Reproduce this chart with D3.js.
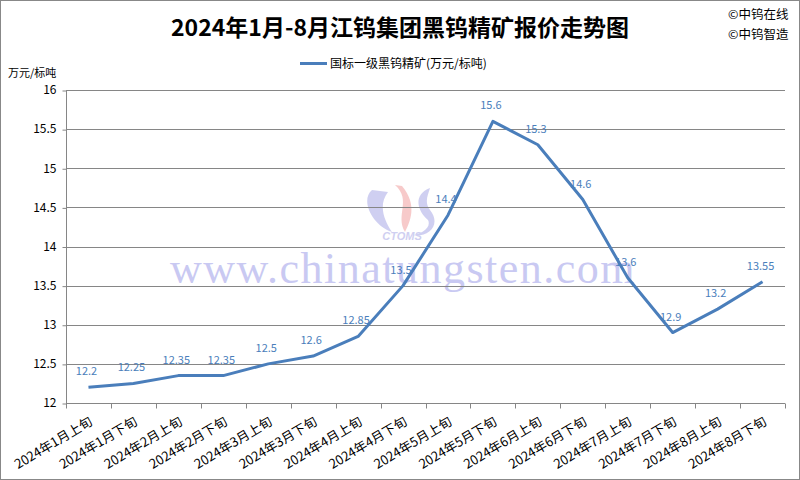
<!DOCTYPE html>
<html><head><meta charset="utf-8">
<script src="https://cdn.jsdelivr.net/npm/d3@7"></script>
<style>body{margin:0;background:#fff}svg{display:block}</style>
</head><body>
<svg id="c" width="800" height="480"></svg>
<script>
const categories = ["2024年1月上旬","2024年1月下旬","2024年2月上旬","2024年2月下旬","2024年3月上旬","2024年3月下旬","2024年4月上旬","2024年4月下旬","2024年5月上旬","2024年5月下旬","2024年6月上旬","2024年6月下旬","2024年7月上旬","2024年7月下旬","2024年8月上旬","2024年8月下旬"];
const values = [12.2,12.25,12.35,12.35,12.5,12.6,12.85,13.5,14.4,15.6,15.3,14.6,13.6,12.9,13.2,13.55];
const valueLabels = ["12.2","12.25","12.35","12.35","12.5","12.6","12.85","13.5","14.4","15.6","15.3","14.6","13.6","12.9","13.2","13.55"];
const yTicks = [12,12.5,13,13.5,14,14.5,15,15.5,16];
const seriesName = "国标一级黑钨精矿(万元/标吨)";
const title = "2024年1月-8月江钨集团黑钨精矿报价走势图";

const svg = d3.select("#c");
const font = "'Noto Sans CJK SC', 'DejaVu Sans', sans-serif";
svg.append("rect").attr("x",0.5).attr("y",0.5).attr("width",799).attr("height",479)
  .attr("fill","#fff").attr("stroke","#888");

const L=66, R=785, T=90, B=403;
const x = d3.scaleBand().domain(categories).range([L,R]);
const y = d3.scaleLinear().domain([12,16]).range([B,T]);

// watermark
svg.append("text").attr("x",403).attr("y",283).attr("text-anchor","middle")
  .attr("font-family","'Liberation Serif', serif").attr("font-size",44)
  .attr("fill","#c9c9f2").attr("letter-spacing",1.5).text("www.chinatungsten.com");
const lg = svg.append("g").attr("opacity",0.55);
lg.append("path").attr("d","M372,190 C360,200 372,225 392,232 C384,220 378,205 388,192 Z").attr("fill","#a9a9e6");
lg.append("path").attr("d","M395,185 C412,200 395,215 405,232 C410,222 418,205 402,186 Z").attr("fill","#f2a0a0");
lg.append("path").attr("d","M430,188 C412,195 418,212 428,220 C432,228 420,235 412,235 C428,238 442,225 430,210 C424,202 428,195 430,188 Z").attr("fill","#a9a9e6");
lg.append("text").attr("x",402).attr("y",240).attr("text-anchor","middle").attr("font-family","'Liberation Sans', sans-serif")
  .attr("font-style","italic").attr("font-weight","bold").attr("font-size",11).attr("fill","#a9a9e6").text("CTOMS");

// gridlines
svg.append("g").selectAll("line").data(yTicks.slice(1)).join("line")
  .attr("x1",L).attr("x2",R).attr("y1",d=>Math.round(y(d))+0.5).attr("y2",d=>Math.round(y(d))+0.5)
  .attr("stroke","#868686").attr("stroke-width",1);

// y axis
const ya = svg.append("g").attr("transform",`translate(${L+0.5},0)`)
  .call(d3.axisLeft(y).tickValues(yTicks).tickSize(4).tickPadding(6).tickFormat(d=>String(d)));
ya.selectAll("path,line").attr("stroke","#868686");
ya.select(".domain").attr("d",`M0,${T}V${B}`);
ya.selectAll("line").attr("transform","translate(0,0.5)");
ya.selectAll("text").attr("font-family",font).attr("font-size",12).attr("fill","#000");

// x axis
const xa = svg.append("g").attr("transform",`translate(0,${Math.round(B)+0.5})`);
xa.append("line").attr("x1",L).attr("x2",R).attr("stroke","#868686");
const bounds = categories.map(c=>x(c)).concat([R]);
xa.selectAll("line.t").data(bounds).join("line").attr("class","t")
  .attr("x1",d=>Math.round(d)+0.5).attr("x2",d=>Math.round(d)+0.5).attr("y1",0).attr("y2",5).attr("stroke","#868686");
xa.selectAll("text").data(categories).join("text")
  .attr("transform",d=>`translate(${x(d)+x.bandwidth()/2+5},20.5) rotate(-31)`)
  .attr("text-anchor","end")
  .attr("font-family",font).attr("font-size",13).attr("fill","#000").text(d=>d);

// line
const pts = values.map((v,i)=>[x(categories[i])+x.bandwidth()/2, y(v)]);
svg.append("path").attr("d",d3.line()(pts)).attr("fill","none").attr("stroke","#4a7ebb").attr("stroke-width",3)
  .attr("stroke-linejoin","round");

// data labels
svg.append("g").selectAll("text").data(values).join("text")
  .attr("x",(d,i)=>pts[i][0]-2).attr("y",(d,i)=>pts[i][1]-12)
  .attr("text-anchor","middle").attr("font-family",font).attr("font-size",11).attr("fill","#4a7ebb")
  .text((d,i)=>valueLabels[i]);

// title
svg.append("text").attr("x",400).attr("y",36).attr("text-anchor","middle").attr("font-family",font)
  .attr("font-weight","bold").attr("font-size",23).attr("fill","#000").text(title);
svg.append("text").attr("x",728).attr("y",19).attr("font-family",font).attr("font-size",12.5).text("©中钨在线");
svg.append("text").attr("x",728).attr("y",39).attr("font-family",font).attr("font-size",12.5).text("©中钨智造");

// legend
svg.append("line").attr("x1",300).attr("x2",327).attr("y1",63.5).attr("y2",63.5).attr("stroke","#4a7ebb").attr("stroke-width",3);
svg.append("text").attr("x",330).attr("y",68).attr("font-family",font).attr("font-size",12).text(seriesName);
svg.append("text").attr("x",8).attr("y",77).attr("font-family",font).attr("font-size",11).text("万元/标吨");
</script>
</body></html>
